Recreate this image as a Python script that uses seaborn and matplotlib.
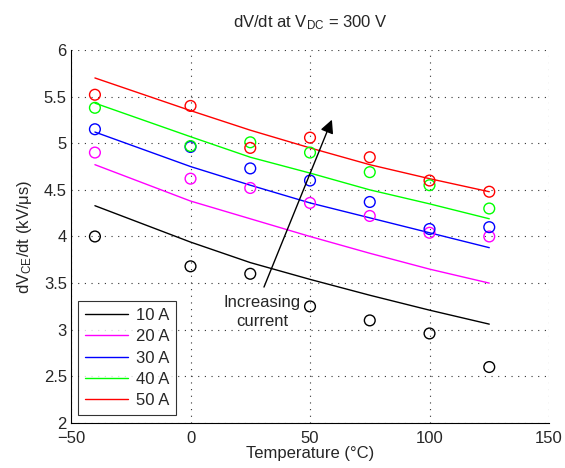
import numpy as np
import pandas as pd
import matplotlib
matplotlib.use("Agg")
import matplotlib.pyplot as plt
import seaborn as sns
from matplotlib.ticker import AutoMinorLocator

temps = [-40, 0, 25, 50, 75, 100, 125]
currents = ["10 A", "20 A", "30 A", "40 A", "50 A"]
colors = ["#000000", "#FF00FF", "#0000FF", "#00FF00", "#FF0000"]

meas_10 = [4.00, 3.68, 3.60, 3.25, 3.10, 2.96, 2.60]
meas_20 = [4.90, 4.62, 4.52, 4.36, 4.22, 4.04, 4.00]
meas_30 = [5.15, 4.96, 4.73, 4.60, 4.37, 4.08, 4.10]
meas_40 = [5.38, 4.97, 5.01, 4.90, 4.69, 4.55, 4.30]
meas_50 = [5.52, 5.40, 4.95, 5.06, 4.85, 4.60, 4.48]

fit_10 = [4.33, 3.94, 3.72, 3.54, 3.37, 3.21, 3.06]
fit_20 = [4.77, 4.38, 4.19, 4.00, 3.82, 3.65, 3.50]
fit_30 = [5.12, 4.75, 4.55, 4.36, 4.20, 4.04, 3.88]
fit_40 = [5.43, 5.07, 4.85, 4.68, 4.50, 4.35, 4.19]
fit_50 = [5.70, 5.35, 5.14, 4.95, 4.77, 4.62, 4.48]

meas = [meas_10, meas_20, meas_30, meas_40, meas_50]
fits = [fit_10, fit_20, fit_30, fit_40, fit_50]

rows = []
for c, m, f in zip(currents, meas, fits):
    for t, mv, fv in zip(temps, m, f):
        rows.append({"Temperature": t, "Current": c, "meas": mv, "fit": fv})
df = pd.DataFrame(rows)

sns.set_style("white")
plt.rcParams["font.family"] = ["Liberation Sans", "DejaVu Sans"]
plt.rcParams["mathtext.fontset"] = "custom"
plt.rcParams["mathtext.rm"] = "Liberation Sans"
plt.rcParams["mathtext.it"] = "Liberation Sans"
plt.rcParams["xtick.direction"] = "in"
plt.rcParams["ytick.direction"] = "in"

fig = plt.figure(figsize=(5.65, 4.68), dpi=100)
ax = fig.add_axes([0.1257, 0.0962, 0.846, 0.797])

palette = dict(zip(currents, colors))
sns.lineplot(data=df, x="Temperature", y="fit", hue="Current", hue_order=currents,
             palette=palette, estimator=None, sort=False, lw=1.0, ax=ax)
sns.scatterplot(data=df, x="Temperature", y="meas", hue="Current", hue_order=currents,
                palette=palette, s=60, marker="o", legend=False, ax=ax, zorder=3)
coll = ax.collections[-1]
fc = coll.get_facecolors()
coll.set_edgecolors(fc)
coll.set_facecolors("none")
coll.set_linewidths(1.0)

ax.set_xlim(-50, 150)
ax.set_ylim(2, 6)
ax.set_xticks([-50, 0, 50, 100, 150])
ax.set_yticks([2, 2.5, 3, 3.5, 4, 4.5, 5, 5.5, 6])
ax.set_yticklabels(["2", "2.5", "3", "3.5", "4", "4.5", "5", "5.5", "6"])
ax.xaxis.set_minor_locator(AutoMinorLocator(5))
ax.yaxis.set_minor_locator(AutoMinorLocator(5))
ax.tick_params(which="major", length=5, width=0.8, labelsize=12, color="k")
ax.tick_params(axis="x", which="major", pad=6)
ax.tick_params(axis="y", which="major", pad=3)
ax.tick_params(which="minor", length=2.5, width=0.6, color="k")
ax.grid(True, which="major", color="#333333", linestyle=(0, (1, 5)), linewidth=0.8)

for s in ["top", "right"]:
    ax.spines[s].set_visible(False)
for s in ["left", "bottom"]:
    ax.spines[s].set_color("k")
    ax.spines[s].set_linewidth(0.8)

ax.set_xlabel("Temperature (\u00b0C)", fontsize=12, labelpad=0)
ax.set_ylabel("dV$_{\\rm CE}$/dt (kV/\u03bcs)", fontsize=12, labelpad=7)
ax.set_title("dV/dt at V$_{\\rm DC}$ = 300 V", fontsize=12, pad=16)

ax.annotate("", xy=(59.6, 5.28), xytext=(30.3, 3.43),
            arrowprops=dict(arrowstyle="-|>", color="k", lw=1.0, mutation_scale=20))
ax.text(29.9, 3.19, "Increasing\ncurrent", ha="center", va="center", fontsize=12,
        linespacing=1.3)

leg = ax.legend(loc="lower left", bbox_to_anchor=(0.0146, 0.0214), borderaxespad=0,
                fontsize=12, frameon=True, fancybox=False, handlelength=2.6,
                labelspacing=0.38, borderpad=0.4, handletextpad=0.5, title=None)
leg.get_frame().set_edgecolor("k")
leg.get_frame().set_linewidth(0.8)

fig.savefig("out.png", dpi=100)
